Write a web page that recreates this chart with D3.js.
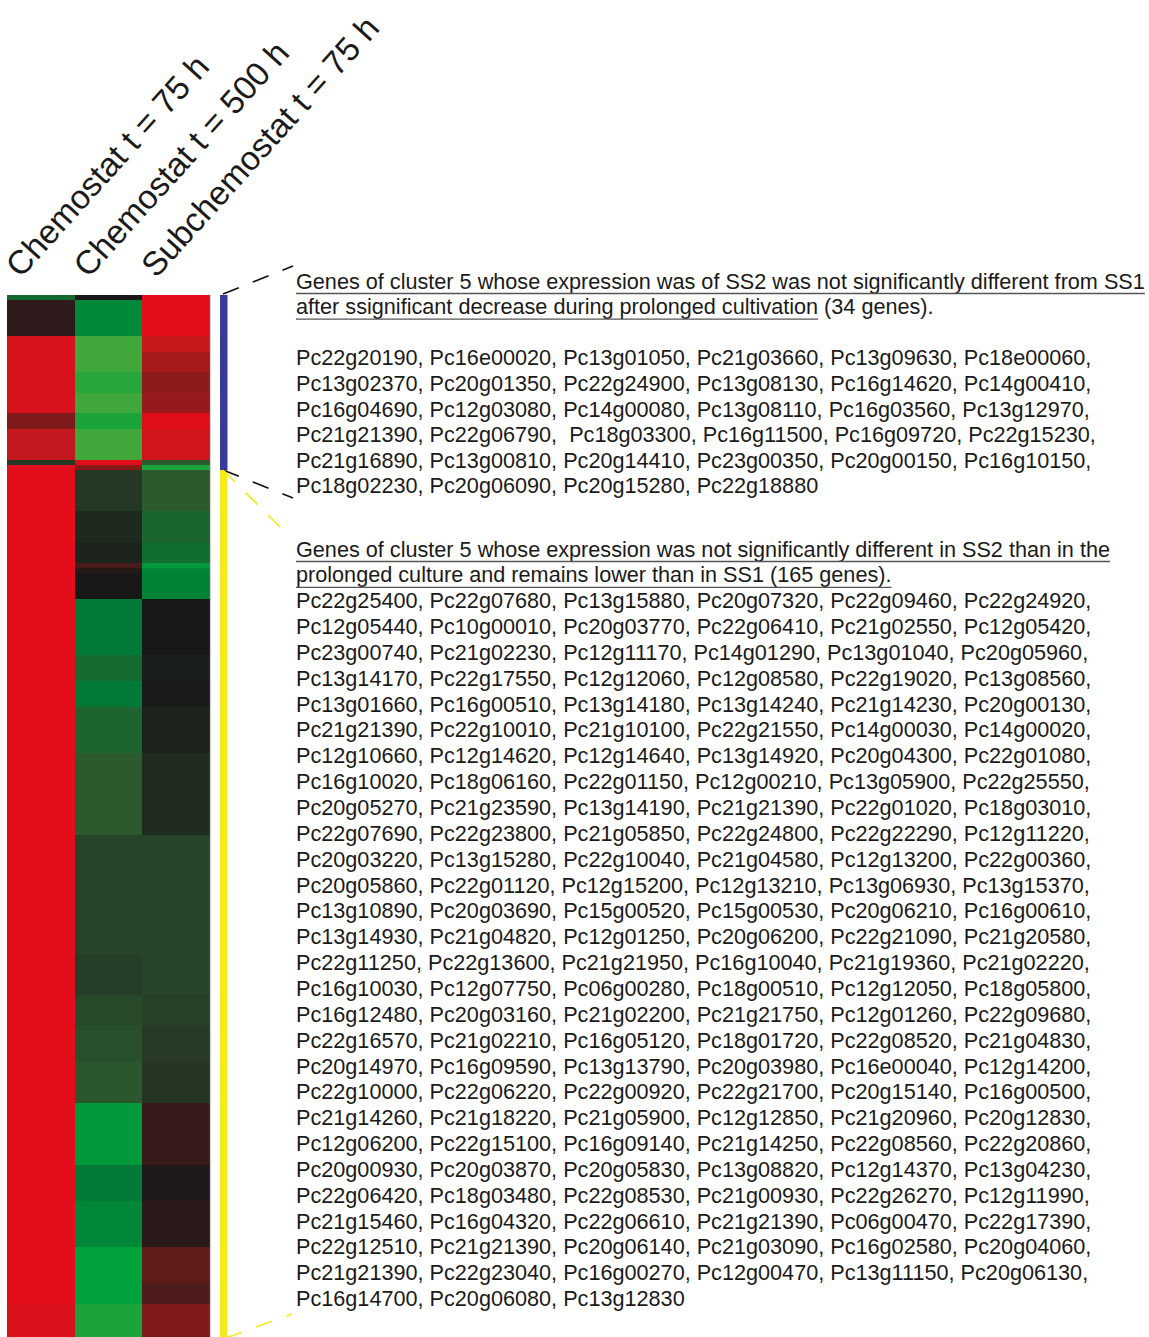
<!DOCTYPE html>
<html>
<head>
<meta charset="utf-8">
<script src="https://cdn.jsdelivr.net/npm/d3@7"></script>
<style>
  html, body { margin: 0; padding: 0; background: #ffffff; }
  svg { display: block; }
  text { font-family: "Liberation Sans", Arial, Helvetica, sans-serif; }
</style>
</head>
<body>
<div id="chart"></div>
<script>
// ---------------- DATA ----------------
const conditions = ["Chemostat t = 75 h", "Chemostat t = 500 h", "Subchemostat t = 75 h"];

// number of gene rows in each horizontal block of the heatmap (top to bottom)
const blockRows = [1, 7, 3, 4, 4, 4, 3, 6, 1, 1,
                   8, 6, 4, 1, 1, 5, 11, 5, 5, 9, 16, 23, 8, 6, 7, 8, 12, 7, 9, 7, 4, 7];

// log-ratio expression per block (positive = red, negative = green)
const chemostat75 = [-1.5, 0.2, 2.55, 2.55, 2.55, 2.55, 0.9, 1.9, -0.5, 3,
                     3, 3, 3, 3, 3, 3, 3, 3, 3, 3, 3, 3, 3, 3, 3, 3, 3, 3, 3, 3, 3, 2.6];
const chemostat500 = [0, -2.4, -4, -4, -3.6, -4, -3.4, -4, 2.9, 1,
                      -0.45, -0.26, -0.18, 0.45, 0.15, 0, -2, -1.5, -2, -1.3, -1.0, -0.65,
                      -0.55, -0.75, -0.85, -0.95, -2.8, -2, -2.35, -3, -3, -3.4];
const subchemostat75 = [3, 3, 2, 1.48, 1.08, 1.2, 2.9, 2.3, -1, -3.4,
                        -1, -1.35, -1.65, -2.8, -2.4, -2.2, 0, -0.1, -0.05, -0.15, -0.3, -0.65,
                        -0.65, -0.6, -0.5, -0.42, 0.3, 0.07, 0.17, 0.65, 0.5, 0.9];

// gene groups (cluster 5 subsets), in rows
const groupNames = ["not different from SS1", "lower than in SS1"];
const groupRows = [34, 169];

const group1Heading = ["Genes of cluster 5 whose expression was of SS2 was not significantly different from SS1",
                       "after ssignificant decrease during prolonged cultivation"];
const group1Count = " (34 genes).";
const group1Genes = [
  "Pc22g20190, Pc16e00020, Pc13g01050, Pc21g03660, Pc13g09630, Pc18e00060,",
  "Pc13g02370, Pc20g01350, Pc22g24900, Pc13g08130, Pc16g14620, Pc14g00410,",
  "Pc16g04690, Pc12g03080, Pc14g00080, Pc13g08110, Pc16g03560, Pc13g12970,",
  "Pc21g21390, Pc22g06790,  Pc18g03300, Pc16g11500, Pc16g09720, Pc22g15230,",
  "Pc21g16890, Pc13g00810, Pc20g14410, Pc23g00350, Pc20g00150, Pc16g10150,",
  "Pc18g02230, Pc20g06090, Pc20g15280, Pc22g18880"
];

const group2Heading = ["Genes of cluster 5 whose expression was not significantly different in SS2 than in the",
                       "prolonged culture and remains lower than in SS1 (165 genes)."];
const group2Genes = [
  "Pc22g25400, Pc22g07680, Pc13g15880, Pc20g07320, Pc22g09460, Pc22g24920,",
  "Pc12g05440, Pc10g00010, Pc20g03770, Pc22g06410, Pc21g02550, Pc12g05420,",
  "Pc23g00740, Pc21g02230, Pc12g11170, Pc14g01290, Pc13g01040, Pc20g05960,",
  "Pc13g14170, Pc22g17550, Pc12g12060, Pc12g08580, Pc22g19020, Pc13g08560,",
  "Pc13g01660, Pc16g00510, Pc13g14180, Pc13g14240, Pc21g14230, Pc20g00130,",
  "Pc21g21390, Pc22g10010, Pc21g10100, Pc22g21550, Pc14g00030, Pc14g00020,",
  "Pc12g10660, Pc12g14620, Pc12g14640, Pc13g14920, Pc20g04300, Pc22g01080,",
  "Pc16g10020, Pc18g06160, Pc22g01150, Pc12g00210, Pc13g05900, Pc22g25550,",
  "Pc20g05270, Pc21g23590, Pc13g14190, Pc21g21390, Pc22g01020, Pc18g03010,",
  "Pc22g07690, Pc22g23800, Pc21g05850, Pc22g24800, Pc22g22290, Pc12g11220,",
  "Pc20g03220, Pc13g15280, Pc22g10040, Pc21g04580, Pc12g13200, Pc22g00360,",
  "Pc20g05860, Pc22g01120, Pc12g15200, Pc12g13210, Pc13g06930, Pc13g15370,",
  "Pc13g10890, Pc20g03690, Pc15g00520, Pc15g00530, Pc20g06210, Pc16g00610,",
  "Pc13g14930, Pc21g04820, Pc12g01250, Pc20g06200, Pc22g21090, Pc21g20580,",
  "Pc22g11250, Pc22g13600, Pc21g21950, Pc16g10040, Pc21g19360, Pc21g02220,",
  "Pc16g10030, Pc12g07750, Pc06g00280, Pc18g00510, Pc12g12050, Pc18g05800,",
  "Pc16g12480, Pc20g03160, Pc21g02200, Pc21g21750, Pc12g01260, Pc22g09680,",
  "Pc22g16570, Pc21g02210, Pc16g05120, Pc18g01720, Pc22g08520, Pc21g04830,",
  "Pc20g14970, Pc16g09590, Pc13g13790, Pc20g03980, Pc16e00040, Pc12g14200,",
  "Pc22g10000, Pc22g06220, Pc22g00920, Pc22g21700, Pc20g15140, Pc16g00500,",
  "Pc21g14260, Pc21g18220, Pc21g05900, Pc12g12850, Pc21g20960, Pc20g12830,",
  "Pc12g06200, Pc22g15100, Pc16g09140, Pc21g14250, Pc22g08560, Pc22g20860,",
  "Pc20g00930, Pc20g03870, Pc20g05830, Pc13g08820, Pc12g14370, Pc13g04230,",
  "Pc22g06420, Pc18g03480, Pc22g08530, Pc21g00930, Pc22g26270, Pc12g11990,",
  "Pc21g15460, Pc16g04320, Pc22g06610, Pc21g21390, Pc06g00470, Pc22g17390,",
  "Pc22g12510, Pc21g21390, Pc20g06140, Pc21g03090, Pc16g02580, Pc20g04060,",
  "Pc21g21390, Pc22g23040, Pc16g00270, Pc12g00470, Pc13g11150, Pc20g06130,",
  "Pc16g14700, Pc20g06080, Pc13g12830"
];

// ---------------- STYLE / LAYOUT ----------------
const W = 1149, H = 1337;
const heatLeft = 7, heatRight = 210, heatTop = 295, rowPx = 175 / 34;
const barX = 220, barW = 7.5;
const groupColors = ["#393b98", "#f4ea1c"];
const textX = 296;
const fontSize = 21.65;
const headerSize = 33.5;
const textColor = "#1a1a1a";
const colorStops = [-4, -3, -2, -1, -0.5, 0, 0.5, 1, 2, 3];
const colorRange = ["#40a83a", "#00a23c", "#007a36", "#2a5a2e", "#263a26", "#181818",
                    "#4e1c1c", "#8a1a1a", "#c8181e", "#e30d1b"];

// ---------------- BUILD ----------------
const svg = d3.select("#chart").append("svg")
  .attr("width", W).attr("height", H)
  .attr("viewBox", `0 0 ${W} ${H}`);
svg.append("rect").attr("width", W).attr("height", H).attr("fill", "#fff");

const totalRows = d3.sum(blockRows);
const y = d3.scaleLinear().domain([0, totalRows]).range([heatTop, heatTop + totalRows * rowPx]);
const x = d3.scaleBand().domain(conditions).range([heatLeft, heatRight]).padding(0);
const color = d3.scaleLinear().domain(colorStops).range(colorRange)
  .interpolate(d3.interpolateRgb).clamp(true);

const series = [chemostat75, chemostat500, subchemostat75];
const starts = d3.cumsum([0, ...blockRows]);
const cells = [];
blockRows.forEach((n, i) => {
  conditions.forEach((c, j) => {
    cells.push({ cond: c, r0: starts[i], r1: starts[i] + n, v: series[j][i] });
  });
});

svg.append("g").selectAll("rect").data(cells).join("rect")
  .attr("x", d => x(d.cond))
  .attr("y", d => y(d.r0))
  .attr("width", x.bandwidth() + 0.3)
  .attr("height", d => y(d.r1) - y(d.r0) + 0.3)
  .attr("fill", d => color(d.v))
  .attr("shape-rendering", "crispEdges");

// faint right border of heatmap
svg.append("line")
  .attr("x1", heatRight + 0.5).attr("x2", heatRight + 0.5)
  .attr("y1", y(0)).attr("y2", y(totalRows))
  .attr("stroke", "#d6cfcf").attr("stroke-width", 1.2);

// group bars
const gStarts = d3.cumsum([0, ...groupRows]);
svg.append("g").selectAll("rect").data(groupRows).join("rect")
  .attr("x", barX)
  .attr("y", (d, i) => y(gStarts[i]))
  .attr("width", barW)
  .attr("height", (d, i) => y(gStarts[i] + d) - y(gStarts[i]))
  .attr("fill", (d, i) => groupColors[i]);

// dashed connector lines
const yBlueTop = y(0), yBoundary = y(groupRows[0]);
const connectors = [
  { x1: barX + 3, y1: yBlueTop - 1, x2: 293, y2: 266, c: "#111" },
  { x1: barX + 3, y1: yBoundary, x2: 293, y2: 498, c: "#111" },
  { x1: barX + 3, y1: yBoundary, x2: 286, y2: 533, c: "#f4ea1c" },
  { x1: barX + 6, y1: H + 1, x2: 292, y2: 1314, c: "#f4ea1c" }
];
svg.append("g").selectAll("line").data(connectors).join("line")
  .attr("x1", d => d.x1).attr("y1", d => d.y1)
  .attr("x2", d => d.x2).attr("y2", d => d.y2)
  .attr("stroke", d => d.c).attr("stroke-width", 1.6)
  .attr("stroke-dasharray", "17,15");

// column headers
const headers = svg.append("g");
conditions.forEach((c, j) => {
  const cx = x(c) + x.bandwidth() / 2 - 20;
  headers.append("text")
    .attr("transform", `translate(${cx},279) rotate(-48)`)
    .attr("font-size", headerSize).attr("fill", textColor)
    .text(c);
});

// text blocks
function underlinedText(str, tx, ty, underline) {
  const t = svg.append("text")
    .attr("x", tx).attr("y", ty)
    .attr("font-size", fontSize).attr("fill", textColor)
    .style("white-space", "pre")
    .text(str);
  const len = t.node().getComputedTextLength();
  if (underline) {
    svg.append("line")
      .attr("x1", tx).attr("x2", tx + len)
      .attr("y1", ty + 5).attr("y2", ty + 5)
      .attr("stroke", "#555").attr("stroke-width", 1.4);
  }
  return len;
}

// group 1
const g1Base = 288.5, lh1 = 25.6;
underlinedText(group1Heading[0], textX, g1Base, true);
const l2 = underlinedText(group1Heading[1], textX, g1Base + lh1, true);
underlinedText(group1Count, textX + l2, g1Base + lh1, false);
group1Genes.forEach((s, i) => underlinedText(s, textX, g1Base + lh1 * (3 + i), false));

// group 2
const g2Base = 556.5, lh2 = 25.85;
group2Heading.forEach((s, i) => underlinedText(s, textX, g2Base + lh2 * i, true));
group2Genes.forEach((s, i) => underlinedText(s, textX, g2Base + lh2 * (2 + i), false));
</script>
</body>
</html>
